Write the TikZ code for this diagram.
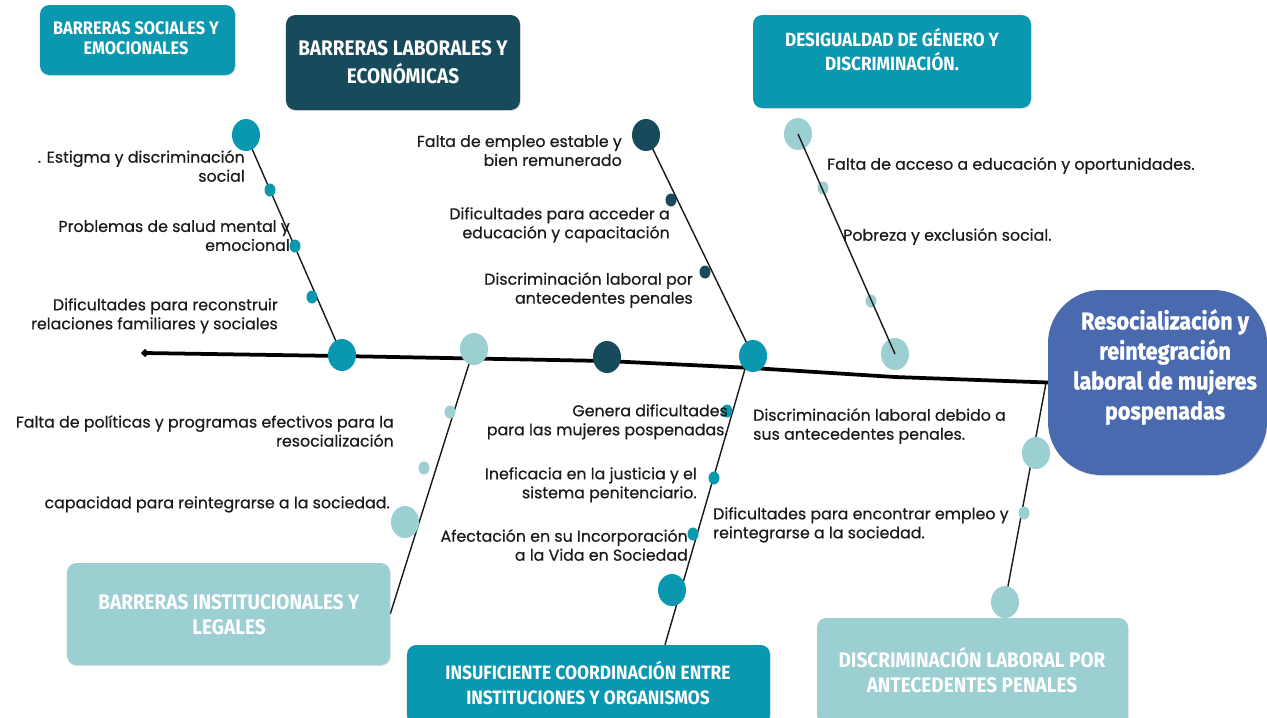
\documentclass[tikz,border=0pt]{standalone}
\usepackage{fontspec}
\setmainfont{Poppins}[FakeBold=0.45]
\newfontfamily\boxfont[FakeStretch=0.9]{Fira Sans}
\newfontfamily\ctrfont[FakeStretch=0.9, FakeBold=1.2]{Fira Sans}
\usetikzlibrary{shapes.geometric,shadows,backgrounds}
\definecolor{cTeal}{HTML}{0A97B0}
\definecolor{cDark}{HTML}{174A5A}
\definecolor{cLight}{HTML}{9BCFD1}
\definecolor{cBlue}{HTML}{4A6AAF}
\definecolor{cText}{HTML}{1A1A1A}
\tikzset{
  catbox/.style={rectangle, rounded corners=8pt, draw=none, inner sep=0pt,
    drop shadow={opacity=0.25, shadow xshift=0.6pt, shadow yshift=-0.8pt}},
  cattext/.style={text=white, align=center, inner sep=0pt,
    font=\boxfont\bfseries\fontsize{18}{24}\selectfont},
  lbl/.style={text=cText, inner sep=0pt, font=\fontsize{13.5}{16.2}\selectfont},
  bigdot/.style={ellipse, inner sep=0pt, minimum width=0.84cm, minimum height=0.96cm, draw=none},
  smalldot/.style={ellipse, inner sep=0pt, minimum width=0.33cm, minimum height=0.39cm, draw=none},
  spineline/.style={line width=3.2pt, black, line cap=round},
  bone/.style={line width=1.2pt, black!90},
}
\begin{document}
\begin{tikzpicture}[x=0.03cm, y=-0.03cm]
\useasboundingbox (0,0) rectangle (1267,717);

% category boxes
\node[catbox, fill=cTeal, minimum width=5.85cm, minimum height=2.1cm] (b1) at (137.5,40) {};
\node[cattext, font=\boxfont\bfseries\fontsize{15.5}{17.5}\selectfont] (b1t) at (136,38) {BARRERAS SOCIALES Y\\EMOCIONALES};
\node[catbox, fill=cDark, minimum width=7.02cm, minimum height=2.85cm] (b2) at (403,62.5) {};
\node[cattext] (b2t) at (403,62) {BARRERAS LABORALES Y\\ECONÓMICAS};
\node[catbox, fill=cTeal, minimum width=8.34cm, minimum height=2.79cm] (b3) at (892,61.5) {};
\node[cattext, font=\boxfont\bfseries\fontsize{16.3}{20.5}\selectfont] (b3t) at (892,50) {DESIGUALDAD DE GÉNERO Y\\DISCRIMINACIÓN.};
\node[catbox, fill=cLight, minimum width=9.69cm, minimum height=3.06cm] (b5) at (228.5,614) {};
\node[cattext, font=\boxfont\bfseries\fontsize{18}{21.5}\selectfont] (b5t) at (229,615) {BARRERAS INSTITUCIONALES Y\\LEGALES};
\node[catbox, fill=cTeal, minimum width=10.89cm, minimum height=2.4cm] (b6) at (588.5,685) {};
\node[cattext, font=\boxfont\bfseries\fontsize{16.5}{21.5}\selectfont] (b6t) at (588,683) {INSUFICIENTE COORDINACIÓN ENTRE\\INSTITUCIONES Y ORGANISMOS};
\node[catbox, fill=cLight, minimum width=9.33cm, minimum height=3.21cm] (b7) at (972.5,671.5) {};
\node[cattext, font=\boxfont\bfseries\fontsize{18}{22}\selectfont] (b7t) at (972,670) {DISCRIMINACIÓN LABORAL POR\\ANTECEDENTES PENALES};

% effect box
\node[rectangle, rounded corners=1.6cm, fill=cBlue, minimum width=6.57cm, minimum height=5.55cm,
  drop shadow={opacity=0.25, shadow xshift=0.6pt, shadow yshift=-0.8pt}] (ctr) at (1157.5,382.5) {};
\node[text=white, align=center, inner sep=0pt, font=\ctrfont\bfseries\fontsize{20.5}{25.6}\selectfont] (ctrt) at (1165,367)
  {Resocialización y\\reintegración\\laboral de mujeres\\pospenadas};

% spine
\node[diamond, fill=black, inner sep=0pt, minimum size=0.26cm] (dia) at (145,353) {};

% dots - upper bone 1
\node[bigdot, fill=cTeal] (u1a) at (246,135) {};
\node[smalldot, fill=cTeal] (u1b) at (270,190) {};
\node[smalldot, fill=cTeal] (u1c) at (295,246) {};
\node[smalldot, fill=cTeal] (u1d) at (312,297) {};
\node[bigdot, fill=cTeal] (s1) at (342,355) {};
% upper bone 2
\node[bigdot, fill=cDark] (u2a) at (646,135) {};
\node[smalldot, fill=cDark] (u2b) at (671,200) {};
\node[smalldot, fill=cDark] (u2c) at (705,272) {};
\node[bigdot, fill=cTeal] (s2) at (753,356) {};
% upper bone 3
\node[bigdot, fill=cLight] (u3a) at (798,134) {};
\node[smalldot, fill=cLight] (u3b) at (823,188) {};
\node[smalldot, fill=cLight] (u3c) at (871,301) {};
\node[bigdot, fill=cLight] (s3) at (895,354) {};
% extra spine dots
\node[bigdot, fill=cLight] (s4) at (474,349) {};
\node[bigdot, fill=cDark] (s5) at (607,357) {};
% lower bone 1
\node[smalldot, fill=cLight] (l1a) at (450,412) {};
\node[smalldot, fill=cLight] (l1b) at (424,468) {};
\node[bigdot, fill=cLight] (l1c) at (405,522) {};
% lower bone 2
\node[smalldot, fill=cTeal] (l2a) at (727,411) {};
\node[smalldot, fill=cTeal] (l2b) at (714,478) {};
\node[smalldot, fill=cTeal] (l2c) at (693,534) {};
\node[bigdot, fill=cTeal] (l2d) at (672,590) {};
% lower bone 3
\node[bigdot, fill=cLight] (l3a) at (1036,453) {};
\node[smalldot, fill=cLight] (l3b) at (1024,513) {};
\node[bigdot, fill=cLight] (l3c) at (1005,602) {};

\coordinate (j1) at (469,364);
\coordinate (j2) at (745,369);
\coordinate (j3) at (1046,383);

\begin{pgfonlayer}{background}
\fill[white] (0,0) rectangle (1267,717);
\draw[spineline] (dia.center) -- (340,356) -- (607,361) -- (752,368) -- (895,377) -- (ctr.west);
\draw[bone] (u1a.center) -- (s1.center);
\draw[bone] (u2a.center) -- (s2.center);
\draw[bone] (j1) -- (b5.east);
\draw[bone] (j2) -- (b6.north -| 665,0);
\draw[bone] (j3) -- (l3c.center);
\end{pgfonlayer}
\draw[bone] (u3a.center) -- (s3.center);

% labels
\node[lbl, anchor=north east, align=right] (t1) at (245,150) {. Estigma y discriminación\\social};
\node[lbl, anchor=north east, align=right] (t2) at (290,220) {Problemas de salud mental y\\emocional};
\node[lbl, anchor=north east, align=right] (t3) at (278,298) {Dificultades para reconstruir\\relaciones familiares y sociales};
\node[lbl, anchor=north east, align=right] (t4) at (622,135) {Falta de empleo estable y\\bien remunerado};
\node[lbl, anchor=north east, align=right] (t5) at (670,207) {Dificultades para acceder a\\educación y capacitación};
\node[lbl, anchor=north east, align=right] (t6) at (693,272) {Discriminación laboral por\\antecedentes penales};
\node[lbl, anchor=north west, align=left] (t7) at (827,157) {Falta de acceso a educación y oportunidades.};
\node[lbl, anchor=north west, align=left] (t8) at (843,228) {Pobreza y exclusión social.};
\node[lbl, anchor=north east, align=right] (t9) at (394,415) {Falta de políticas y programas efectivos para la\\resocialización};
\node[lbl, anchor=north east, align=right] (t10) at (390,496) {capacidad para reintegrarse a la sociedad.};
\node[lbl, anchor=north east, align=right] (t11) at (728,404) {Genera dificultades\\para las mujeres pospenadas.};
\node[lbl, anchor=north east, align=right] (t12) at (697,467) {Ineficacia en la justicia y el\\sistema penitenciario.};
\node[lbl, anchor=north east, align=right] (t13) at (688,529) {Afectación en su Incorporación\\a la Vida en Sociedad};
\node[lbl, anchor=north west, align=left] (t14) at (753,408) {Discriminación laboral debido a\\sus antecedentes penales.};
\node[lbl, anchor=north west, align=left] (t15) at (713,507) {Dificultades para encontrar empleo y\\reintegrarse a la sociedad.};
\end{tikzpicture}
\end{document}
